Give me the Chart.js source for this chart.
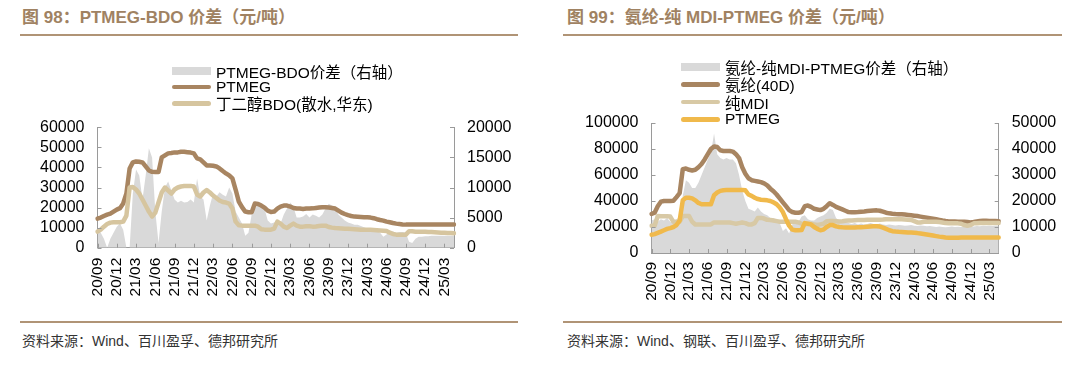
<!DOCTYPE html>
<html><head><meta charset="utf-8">
<script src="https://cdn.jsdelivr.net/npm/chart.js@4.4.1/dist/chart.umd.min.js"></script>
<style>
html,body{margin:0;padding:0;background:#fff;}
body{width:1080px;height:365px;position:relative;overflow:hidden;font-family:"Liberation Sans",Arial,"Noto Sans CJK SC",sans-serif;}
.title{position:absolute;top:8px;font-size:17px;font-weight:bold;color:#a08262;white-space:nowrap;line-height:20px;}
.rule{position:absolute;height:2px;background:#b09476;}
.src{position:absolute;top:332px;font-size:14px;color:#333;white-space:nowrap;line-height:18px;}
canvas{position:absolute;top:0;}
.legend{position:absolute;font-size:15.5px;color:#000;white-space:nowrap;}
.lrow{display:flex;align-items:center;}
.sw{display:inline-block;width:39px;margin-right:5px;flex:none;}
.sw.area{height:8px;}
.sw.line{height:4.5px;border-radius:2.5px;}
</style>
</head><body>
<div class="title" style="left:22px">图 98：PTMEG-BDO 价差（元/吨）</div>
<div class="rule" style="left:20px;width:498px;top:34px"></div>
<div class="title" style="left:567px">图 99：氨纶-纯 MDI-PTMEG 价差（元/吨）</div>
<div class="rule" style="left:563px;width:499px;top:34px"></div>

<canvas id="c1" width="540" height="320" style="left:0"></canvas>
<canvas id="c2" width="540" height="320" style="left:540px"></canvas>
<div class="legend" id="lg1" style="left:172px;top:62.4px"></div>
<div class="legend" id="lg2" style="left:681px;top:58.4px"></div>

<div class="rule" style="left:20px;width:498px;top:321px;height:1.5px"></div>
<div class="rule" style="left:563px;width:499px;top:321px;height:1.5px"></div>
<div class="src" style="left:22px">资料来源：Wind、百川盈孚、德邦研究所</div>
<div class="src" style="left:567px">资料来源：Wind、钢联、百川盈孚、德邦研究所</div>

<script>
// ---- categories: half-month periods from 2020/09 to 2025/04 ----
const startYear = 2020, startMonth = 9, nMonths = 56;
const categories = [];
for (let m = 0; m < nMonths; m++) {
  const y = startYear + Math.floor((startMonth - 1 + m) / 12);
  const mo = (startMonth - 1 + m) % 12 + 1;
  const lab = String(y % 100).padStart(2, '0') + '/' + String(mo).padStart(2, '0');
  categories.push(lab + '上', lab + '下');
}
const tickLabels = ['20/09','20/12','21/03','21/06','21/09','21/12','22/03','22/06','22/09','22/12',
                    '23/03','23/06','23/09','23/12','24/03','24/06','24/09','24/12','25/03'];

// ---- Chart 98 series (元/吨) ----
const ptmeg1 = [
  14500,15000,15800,16500,17000,18000,19000,19700,22000,27000,
  39500,42500,43000,42800,42500,40500,38500,37800,37700,37700,
  45000,46000,47000,47200,47500,47500,47800,47800,47600,47400,
  47000,44500,44000,42500,41000,41000,40800,40500,39500,38200,
  37000,36000,34500,29000,23000,20200,18000,17700,17700,22000,
  21800,21000,20000,18500,17800,18000,19500,20500,21000,21000,
  20500,19800,19500,19500,19300,19500,19500,19600,19800,20000,
  20200,20200,20000,19800,19500,18500,17500,16800,16200,15800,
  15500,15400,15300,15200,15200,15000,14700,14200,13800,13500,
  13000,12700,12300,12000,11800,11600,11500,11500,11500,11500,
  11500,11500,11500,11500,11500,11500,11500,11500,11500,11500,
  11500,11500];
const bdo1 = [
  8000,9000,10500,11800,12500,12700,12700,12700,13000,16000,
  30000,30200,29000,27000,24000,21000,18000,15500,17500,22500,
  27500,30000,28500,27000,29000,30000,30500,30700,30800,30800,
  30500,26500,25500,27500,28700,27500,26000,24800,23500,22800,
  22500,22000,19500,13000,11200,11000,11000,11000,11000,11000,
  10500,9200,9000,9000,9000,9500,13000,12000,10500,9800,
  11000,12000,11000,10500,10500,10700,10700,10500,10600,10800,
  11000,11000,10300,10000,9800,9700,9600,9500,9400,9300,
  9200,9100,9000,9000,8900,8900,8800,8700,8600,8500,
  8300,7500,6800,6500,6500,6500,6500,8200,8200,8000,
  8000,7900,7900,7800,7800,7700,7600,7500,7400,7300,
  7300,7200];
const spread1 = [
  3000,2500,1500,0,1500,2500,3500,4000,3000,0,
  0,9000,13000,12000,8000,12000,16500,15000,6000,800,
  6000,10000,11000,9500,8000,7500,7800,7500,7600,8000,
  7500,11500,8500,8000,4500,7000,9000,8500,9200,8800,
  8500,10000,9000,6000,5000,4000,2000,2500,5500,6500,
  7000,7200,6500,4500,4000,4200,4500,4000,5500,6500,
  7500,6800,5000,5000,5200,5600,5000,5500,5300,5000,
  5500,6500,7300,7000,6500,5500,5000,4500,4200,4000,
  3800,3800,3600,3400,3200,3000,3000,2800,2500,1800,
  2200,2800,2700,2500,2600,2600,2500,1000,800,1500,
  1800,1800,1900,1900,2000,2000,2000,2000,2000,2000,
  2000,2000];

// ---- Chart 99 series (元/吨) ----
const spandex2 = [
  30000,31000,36000,39500,40000,40000,40000,40200,43000,46000,
  64500,65000,64000,63500,64000,66000,68500,72000,76000,80000,
  82000,81500,79000,78500,78500,78500,78000,76000,73000,66000,
  61000,57500,56000,55500,55000,54500,53500,52000,49500,47500,
  45000,42000,39000,36000,33000,31500,31000,31000,31500,36000,
  36500,35500,34000,33500,33000,34000,36000,38300,37000,35500,
  34500,33500,32500,31500,31300,31300,31500,31800,32000,32300,
  32500,32700,32800,32500,31800,31000,30500,30200,30000,29900,
  29800,29600,29300,29000,28700,28400,28000,27600,27200,26800,
  26400,26000,25500,25000,24600,24300,24200,24200,24100,24100,
  24000,23800,23500,23800,24300,24700,24800,24800,24700,24700,
  24600,24500];
const mdi2 = [
  21000,21000,28500,28300,28300,28300,28000,24000,24000,24000,
  28500,28500,28500,24000,22000,22000,22000,22000,22000,22000,
  23500,23500,23500,23500,23500,23500,23000,22500,23000,23500,
  23000,22000,22000,23000,27000,27000,26500,25500,25400,25000,
  24500,24000,24000,24000,24000,24000,24000,23500,22500,22300,
  22300,22500,22000,21500,22000,22500,24500,24600,24600,24500,
  24300,24500,24800,25000,25000,25200,25300,25400,25400,25500,
  25500,25500,25500,25500,25700,26000,26000,26000,26000,26000,
  26000,25800,25600,25400,24500,23500,23500,24000,24000,24000,
  24000,24000,23800,23500,23000,22800,22800,22800,22800,22500,
  21500,21000,21500,22800,22800,23000,23000,23000,23000,23000,
  23000,23000];
const ptmeg2 = [
  14000,14500,15500,16500,17500,18500,19200,20000,21500,25000,
  40500,42500,42500,42000,40500,38500,37500,37500,37500,37500,
  44500,46500,47800,48300,48400,48500,48500,48500,48500,48400,
  48200,45000,44000,42500,41500,41000,40800,40500,40000,39000,
  37500,35000,31500,26000,21000,18000,17500,17500,17700,23000,
  22500,22000,20000,18500,17500,18000,20000,21500,21500,20500,
  20000,19800,19700,19600,19600,19700,19800,19900,20000,20200,
  20400,20500,20500,20300,19500,18500,17500,16800,16500,16300,
  16200,16000,15800,15700,15500,15300,15000,14600,14200,13800,
  13400,13000,12600,12300,12000,11800,11700,11800,11800,11900,
  11900,12000,12000,12000,12000,12000,12000,12000,12000,12000,
  12000,12000];
const spread2 = [
  12500,13000,12000,13000,12500,13500,12000,11500,13000,14000,
  22000,28000,27000,25000,25000,27000,30000,33000,36000,38500,
  46000,38000,36500,36000,36500,36000,36000,34500,30000,24000,
  20000,17000,16500,16000,17500,16000,15000,14500,13500,13500,
  12500,11500,8500,9500,7500,11000,12500,12000,14000,14500,
  13000,12500,12500,13500,14000,14500,15500,17000,16500,13500,
  12500,12000,11500,11500,11200,11500,11000,11300,11000,11200,
  11500,11200,11000,11300,11000,10800,11000,10800,10600,10800,
  10700,10500,10600,10800,10500,10400,10600,10500,10300,10400,
  10200,10000,10200,10000,9900,10000,10200,10000,10100,10000,
  10000,10200,10300,10200,10400,10300,10500,10400,10500,10400,
  10500,10500];

// ---- styling ----
const AXIS = '#9a9a9a';
const GRAY = '#d9d9d9', BROWN = '#a88561', TAN = '#d6c59f', TAN2 = '#d8c9a5', YELLOW = '#f0b94b';
const FONT_FAMILY = '"Liberation Sans", Arial, "Noto Sans CJK SC", sans-serif';

const innerTicks = {
  id: 'innerTicks',
  afterDraw(chart) {
    const ctx = chart.ctx, a = chart.chartArea, L = 4;
    ctx.save();
    ctx.strokeStyle = AXIS; ctx.lineWidth = 1;
    Object.values(chart.scales).forEach(s => {
      s.ticks.forEach((t, i) => {
        if (t.label === null || t.label === undefined || t.label === '') return;
        const p = Math.round(s.getPixelForTick(i)) + 0.5;
        ctx.beginPath();
        if (s.axis === 'x') { ctx.moveTo(p, a.bottom); ctx.lineTo(p, a.bottom - L); }
        else if (s.position === 'left') { ctx.moveTo(a.left, p); ctx.lineTo(a.left + L, p); }
        else { ctx.moveTo(a.right, p); ctx.lineTo(a.right - L, p); }
        ctx.stroke();
      });
    });
    ctx.restore();
  }
};

function xTick(value, index) {
  const c = categories[index];
  if (c && c.endsWith('上')) {
    const l = c.slice(0, 5);
    if (tickLabels.includes(l)) return l;
  }
  return null;
}
const plainNum = v => String(v);

function areaDs(label, data, order) {
  return { label, data, yAxisID: 'y1', fill: 'origin', backgroundColor: GRAY,
           borderColor: 'rgba(0,0,0,0)', borderWidth: 0, pointRadius: 0, tension: 0, order };
}
function lineDs(label, data, color, order) {
  return { label, data, yAxisID: 'y', fill: false, borderColor: color, backgroundColor: color,
           borderWidth: 4.5, pointRadius: 0, tension: 0, borderJoinStyle: 'round',
           borderCapStyle: 'round', order };
}

function makeOptions(geo) {
  const yFont = { family: FONT_FAMILY, size: 16 };
  return {
    responsive: false, animation: false, devicePixelRatio: 1,
    layout: { padding: { top: geo.top, left: 0, right: 0, bottom: 0 } },
    plugins: { legend: { display: false }, tooltip: { enabled: false } },
    scales: {
      x: {
        type: 'category',
        grid: { display: false, drawTicks: false },
        border: { display: true, color: AXIS, width: 1 },
        ticks: { autoSkip: false, minRotation: 90, maxRotation: 90, padding: geo.xPad,
                 color: '#000', font: { family: FONT_FAMILY, size: 15.5 }, callback: xTick },
        afterFit(s) { s.height = geo.xH; }
      },
      y: {
        position: 'left', min: 0, max: geo.yMax,
        grid: { display: false, drawTicks: false },
        border: { display: true, color: AXIS, width: 1 },
        ticks: { stepSize: geo.yStep, autoSkip: false, padding: 13, color: '#000', font: yFont, callback: plainNum },
        afterFit(s) { s.width = geo.yW; }
      },
      y1: {
        position: 'right', min: 0, max: geo.y1Max,
        grid: { display: false, drawTicks: false },
        border: { display: true, color: AXIS, width: 1 },
        ticks: { stepSize: geo.y1Step, autoSkip: false, padding: 13, color: '#000', font: yFont, callback: plainNum },
        afterFit(s) { s.width = geo.y1W; }
      }
    }
  };
}

function buildLegend(chart, el, rowH) {
  chart.data.datasets.forEach(ds => {
    const row = document.createElement('div');
    row.className = 'lrow';
    row.style.height = rowH + 'px';
    const sw = document.createElement('span');
    const isArea = ds.fill === 'origin';
    sw.className = 'sw ' + (isArea ? 'area' : 'line');
    sw.style.background = isArea ? ds.backgroundColor : ds.borderColor;
    const tx = document.createElement('span');
    tx.textContent = ds.label;
    row.append(sw, tx);
    el.append(row);
  });
}

const chart1 = new Chart(document.getElementById('c1'), {
  type: 'line',
  data: {
    labels: categories,
    datasets: [
      areaDs('PTMEG-BDO价差（右轴）', spread1, 10),
      lineDs('PTMEG', ptmeg1, BROWN, 3),
      lineDs('丁二醇BDO(散水,华东)', bdo1, TAN, 2)
    ]
  },
  options: makeOptions({ top: 127.3, xH: 320 - 247.7, xPad: 10, yW: 97.5, y1W: 540 - 454,
                         yMax: 60000, yStep: 10000, y1Max: 20000, y1Step: 5000 }),
  plugins: [innerTicks]
});
buildLegend(chart1, document.getElementById('lg1'), 16.4);

const chart2 = new Chart(document.getElementById('c2'), {
  type: 'line',
  data: {
    labels: categories,
    datasets: [
      areaDs('氨纶-纯MDI-PTMEG价差（右轴）', spread2, 10),
      lineDs('氨纶(40D)', spandex2, BROWN, 3),
      lineDs('纯MDI', mdi2, TAN2, 2),
      lineDs('PTMEG', ptmeg2, YELLOW, 1)
    ]
  },
  options: makeOptions({ top: 123, xH: 320 - 253, xPad: 9, yW: 111.5, y1W: 540 - 458.7,
                         yMax: 100000, yStep: 20000, y1Max: 50000, y1Step: 10000 }),
  plugins: [innerTicks]
});
buildLegend(chart2, document.getElementById('lg2'), 17.4);
</script>
</body></html>
